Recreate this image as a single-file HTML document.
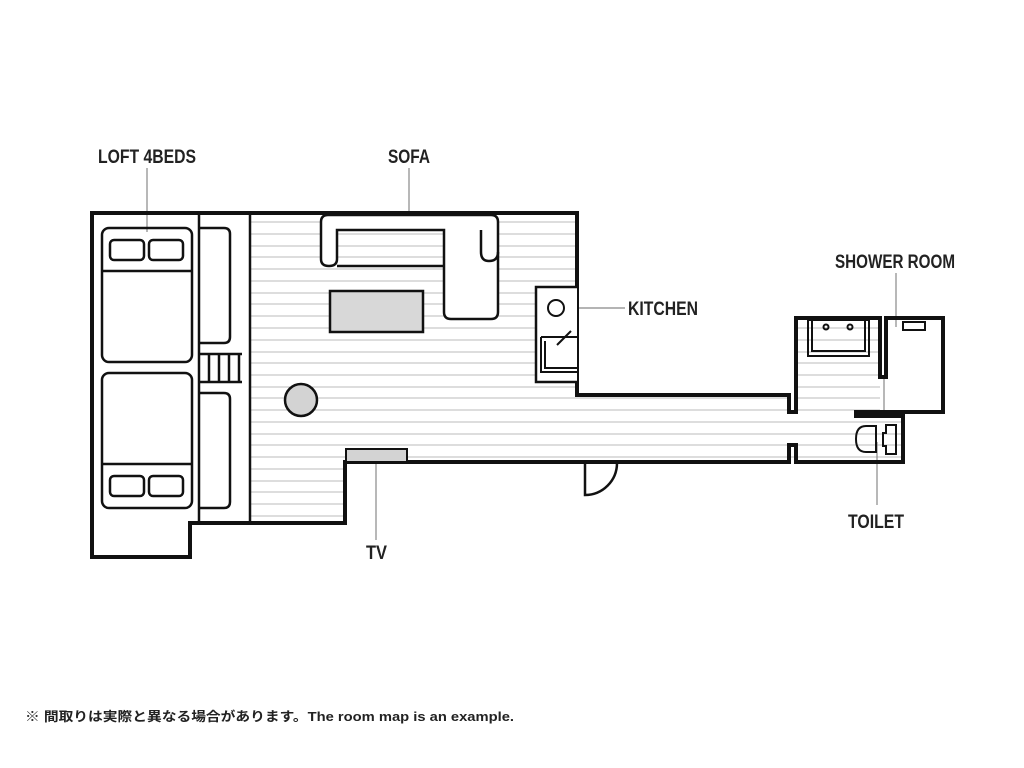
<!DOCTYPE html>
<html><head><meta charset="utf-8"><style>
body{margin:0;background:#fff;width:1024px;height:768px;overflow:hidden}
svg{display:block}
.l{font-family:"Liberation Sans",sans-serif;font-weight:bold;font-size:19px;fill:#222}
</style></head><body>
<svg width="1024" height="768" viewBox="0 0 1024 768">
<defs>
<clipPath id="fl"><path d="M250 213H577V395H789V412H796V318H880V412H903V462H345V523H250Z"/></clipPath>
</defs>
<g clip-path="url(#fl)" stroke="#bbb" stroke-width="1">
<g id="st">
<line x1="250" y1="222" x2="950" y2="222"/><line x1="250" y1="234" x2="950" y2="234"/><line x1="250" y1="246" x2="950" y2="246"/><line x1="250" y1="257" x2="950" y2="257"/><line x1="250" y1="269" x2="950" y2="269"/><line x1="250" y1="281" x2="950" y2="281"/><line x1="250" y1="293" x2="950" y2="293"/><line x1="250" y1="304" x2="950" y2="304"/><line x1="250" y1="316" x2="950" y2="316"/><line x1="250" y1="328" x2="950" y2="328"/><line x1="250" y1="340" x2="950" y2="340"/><line x1="250" y1="352" x2="950" y2="352"/><line x1="250" y1="363" x2="950" y2="363"/><line x1="250" y1="375" x2="950" y2="375"/><line x1="250" y1="387" x2="950" y2="387"/><line x1="250" y1="398" x2="950" y2="398"/><line x1="250" y1="410" x2="950" y2="410"/><line x1="250" y1="422" x2="950" y2="422"/><line x1="250" y1="434" x2="950" y2="434"/><line x1="250" y1="445" x2="950" y2="445"/><line x1="250" y1="457" x2="950" y2="457"/><line x1="250" y1="469" x2="950" y2="469"/><line x1="250" y1="481" x2="950" y2="481"/><line x1="250" y1="492" x2="950" y2="492"/><line x1="250" y1="504" x2="950" y2="504"/><line x1="250" y1="516" x2="950" y2="516"/>
</g></g>
<!-- leader lines -->
<g stroke="#888" stroke-width="1.2" fill="none">
<line x1="147" y1="168" x2="147" y2="232"/>
<line x1="409" y1="168" x2="409" y2="222"/>
<line x1="574" y1="308" x2="625" y2="308"/>
<line x1="896" y1="273" x2="896" y2="327"/>
<line x1="877" y1="442" x2="877" y2="505"/>
<line x1="376" y1="458" x2="376" y2="540"/>
<line x1="884" y1="377" x2="884" y2="412"/>
</g>
<g fill="none" stroke="#111" stroke-linejoin="miter">
<!-- outer walls -->
<path d="M92 213H577V395H789V412H796V318H880V377H886V318H943V412H856V416H903V462H796V445H789V462H345V523H190V557H92Z" stroke-width="4" fill="none"/>
<line x1="199" y1="213" x2="199" y2="523" stroke-width="2.5"/>
<line x1="250" y1="213" x2="250" y2="523" stroke-width="2.5"/>
<!-- beds -->
<g stroke-width="2.5">
<rect x="102" y="228" width="90" height="134" rx="7"/>
<line x1="102" y1="271" x2="192" y2="271"/>
<rect x="110" y="240" width="34" height="20" rx="4"/><rect x="149" y="240" width="34" height="20" rx="4"/>
<rect x="102" y="373" width="90" height="135" rx="7"/>
<line x1="102" y1="464" x2="192" y2="464"/>
<rect x="110" y="476" width="34" height="20" rx="4"/><rect x="149" y="476" width="34" height="20" rx="4"/>
<path d="M199 228H224Q230 228 230 234V337Q230 343 224 343H199"/>
<path d="M199 393H224Q230 393 230 399V502Q230 508 224 508H199"/>
<path d="M199 354H242M199 382H242M209 354V382M219 354V382M229 354V382M239 354V382"/>
</g>
<!-- sofa -->
<g stroke-width="2.5">
<path d="M321 222Q321 215 328 215H491Q498 215 498 222V312Q498 319 491 319H451Q444 319 444 312V230H337V259Q337 266 329 266Q321 266 321 259Z" fill="#fff"/>
<path d="M444 266H337M481 230V252Q481 261 489 261Q498 261 498 252"/>
<rect x="330" y="291" width="93" height="41" fill="#d8d8d8"/>
<circle cx="301" cy="400" r="16" fill="#d3d3d3"/>
<rect x="346" y="449" width="61" height="13" fill="#d3d3d3" stroke-width="2"/>
</g>
<!-- kitchen -->
<g stroke-width="2.5">
<path d="M577 287H536V382H577" fill="#fff"/>
<circle cx="556" cy="308" r="8" stroke-width="2"/>
<path d="M541 337H577M541 337V372H577M545 341V368H577" stroke-width="2"/>
<line x1="557" y1="345" x2="571" y2="331" stroke-width="2"/>
</g>
<!-- door -->
<path d="M585 462V495A32 32 0 0 0 617 463" stroke-width="2.5"/>
<!-- bath sink -->
<g stroke-width="2">
<rect x="808" y="320" width="61" height="36"/>
<path d="M812 320V351H865V320"/>
<circle cx="826" cy="327" r="2.5"/><circle cx="850" cy="327" r="2.5"/>
<rect x="903" y="322" width="22" height="8"/>
<!-- toilet -->
<path d="M876 426V452H866Q856 452 856 439Q856 426 866 426Z"/>
<path d="M896 425V454H886V446H883V433H886V425Z"/>
</g>
</g>
<!-- labels -->
<g class="l">
<text x="98" y="163" textLength="98" lengthAdjust="spacingAndGlyphs">LOFT 4BEDS</text>
<text x="388" y="163" textLength="42" lengthAdjust="spacingAndGlyphs">SOFA</text>
<text x="628" y="315" textLength="70" lengthAdjust="spacingAndGlyphs">KITCHEN</text>
<text x="835" y="268" textLength="120" lengthAdjust="spacingAndGlyphs">SHOWER ROOM</text>
<text x="848" y="528" textLength="56" lengthAdjust="spacingAndGlyphs">TOILET</text>
<text x="366" y="559" textLength="21" lengthAdjust="spacingAndGlyphs">TV</text>
</g>
<text x="25" y="721" font-family="'Liberation Sans','Noto Sans CJK JP',sans-serif" font-weight="bold" font-size="13" fill="#222" textLength="489" lengthAdjust="spacingAndGlyphs">※ 間取りは実際と異なる場合があります。The room map is an example.</text>
</svg>
</body></html>
